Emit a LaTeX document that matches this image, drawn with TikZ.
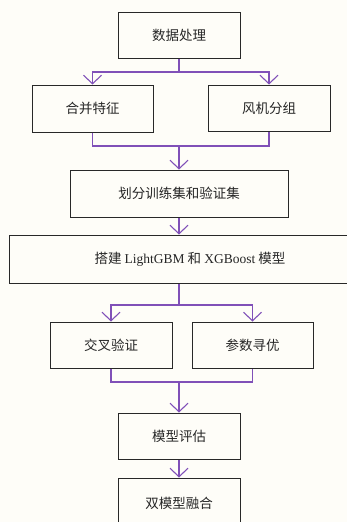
\documentclass[tikz,border=0pt]{standalone}
\usepackage{fontspec}
\setmainfont{Liberation Serif}
\newfontfamily\cjk{Noto Sans CJK SC}
\usetikzlibrary{arrows.meta}
\definecolor{bg}{RGB}{254,253,248}
\definecolor{boxline}{RGB}{40,40,40}
\definecolor{conncol}{RGB}{128,80,184}
\tikzset{
  stepbox/.style={draw=boxline, line width=1pt, fill=bg, inner sep=0pt, font=\fontsize{13.5}{16}\selectfont\cjk, text=black!85},
  conn/.style={draw=conncol, line width=1.2pt},
  arr/.style={conn, -{Straight Barb[length=8.5pt,width=18pt,line width=1.1pt]}}
}
\begin{document}
\begin{tikzpicture}[x=1pt,y=-1pt]
\clip (0,0) rectangle (347,522);
\fill[bg] (0,0) rectangle (347,522);
\node[stepbox, minimum width=122pt, minimum height=46pt] (b1) at (179,35) {数据处理};
\node[stepbox, minimum width=121pt, minimum height=47pt] (b2a) at (92.5,108.5) {合并特征};
\node[stepbox, minimum width=122pt, minimum height=46pt] (b2b) at (269,108) {风机分组};
\node[stepbox, minimum width=218pt, minimum height=47pt] (b3) at (179,193.5) {划分训练集和验证集};
\node[stepbox, minimum width=362pt, minimum height=48pt] (b4) at (190,259) {搭建 {\rmfamily LightGBM} 和 {\rmfamily XGBoost} 模型};
\node[stepbox, minimum width=122pt, minimum height=46pt] (b5a) at (111,345) {交叉验证};
\node[stepbox, minimum width=121pt, minimum height=46pt] (b5b) at (252.5,345) {参数寻优};
\node[stepbox, minimum width=122pt, minimum height=46pt] (b6) at (179,436) {模型评估};
\node[stepbox, minimum width=122pt, minimum height=50pt] (b7) at (179,503) {双模型融合};
% split 1
\coordinate (s1) at (179,72);
\draw[conn] (b1.south) -- (s1);
\draw[arr] (s1) -| (b2a.north);
\draw[arr] (s1) -| (b2b.north);
% merge 1
\coordinate (m1) at (179,146);
\draw[conn] (b2a.south) |- (m1) -| (b2b.south);
\draw[arr] (m1) -- (b3.north);
% b3 -> b4
\draw[arr] (b3.south) -- (b3.south |- b4.north);
% split 2
\coordinate (s2) at (179,305);
\draw[conn] (b3.south |- b4.south) -- (s2);
\draw[arr] (s2) -| (b5a.north);
\draw[arr] (s2) -| (b5b.north);
% merge 2
\coordinate (m2) at (179,382);
\draw[conn] (b5a.south) |- (m2) -| (b5b.south);
\draw[arr] (m2) -- (b6.north);
\draw[arr] (b6.south) -- (b7.north);
\end{tikzpicture}
\end{document}
